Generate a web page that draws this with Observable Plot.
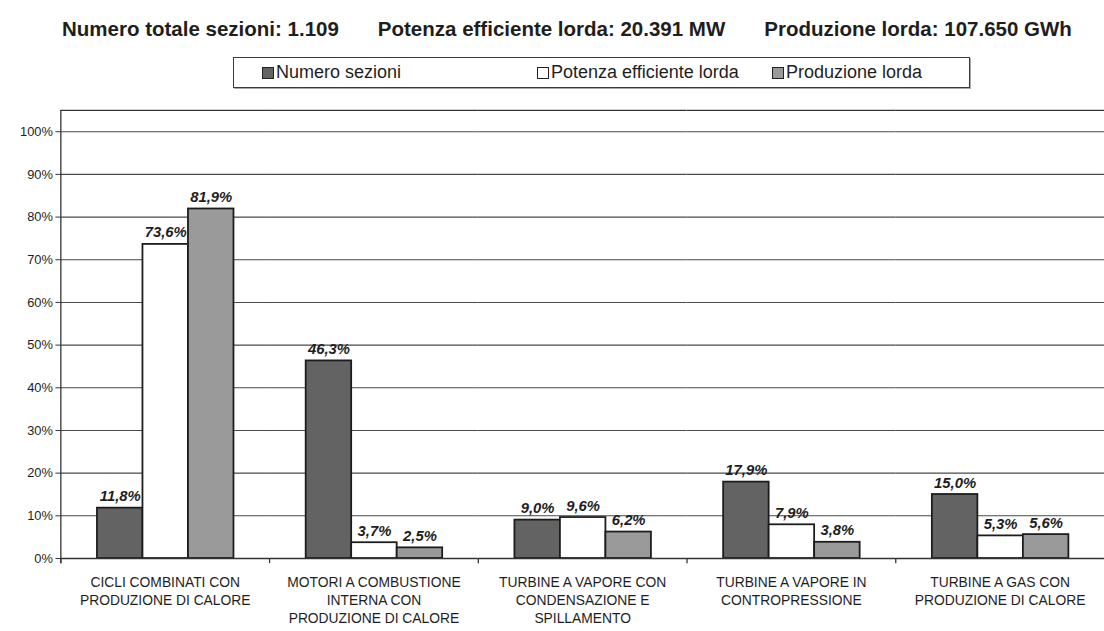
<!DOCTYPE html>
<html>
<head>
<meta charset="utf-8">
<script src="https://cdn.jsdelivr.net/npm/d3@7"></script>
<script src="https://cdn.jsdelivr.net/npm/@observablehq/plot@0.6"></script>
<style>
  html, body { margin: 0; padding: 0; background: #fff; overflow: hidden; width: 1104px; height: 631px; }
  body { position: relative; font-family: "Liberation Sans", Arial, sans-serif; color: #1e1e1e; }
  #title { position: absolute; left: 62px; top: 17px; font-weight: bold; font-size: 20.5px; white-space: nowrap; display: flex; gap: 39px; }
  #legend { position: absolute; left: 233px; top: 57px; width: 735px; height: 29px; border: 1.5px solid #3a3a3a; box-shadow: 1px 1px 0 #aaa;
            font-size: 18px; white-space: nowrap; }
  #legend .item { position: absolute; top: 0; height: 29px; display: flex; align-items: center; }
  #legend .sw { width: 10px; height: 10px; border: 1.5px solid #222; margin-right: 2px; }
  #chart { position: absolute; left: 0; top: 100px; }
</style>
</head>
<body>
<div id="title"></div>
<div id="legend"></div>
<div id="chart"></div>
<script>
const headline = ["Numero totale sezioni: 1.109", "Potenza efficiente lorda: 20.391 MW", "Produzione lorda: 107.650 GWh"];
const categories = ["CC", "MCI", "TVC", "TVP", "TG"];
const categoryLabels = [
  "CICLI COMBINATI CON\nPRODUZIONE DI CALORE",
  "MOTORI A COMBUSTIONE\nINTERNA CON\nPRODUZIONE DI CALORE",
  "TURBINE A VAPORE CON\nCONDENSAZIONE E\nSPILLAMENTO",
  "TURBINE A VAPORE IN\nCONTROPRESSIONE",
  "TURBINE A GAS CON\nPRODUZIONE DI CALORE"
];
const series = ["Numero sezioni", "Potenza efficiente lorda", "Produzione lorda"];
const numeroSezioni = [11.8, 46.3, 9.0, 17.9, 15.0];
const potenzaEfficiente = [73.6, 3.7, 9.6, 7.9, 5.3];
const produzioneLorda = [81.9, 2.5, 6.2, 3.8, 5.6];
const yTicks = [0, 10, 20, 30, 40, 50, 60, 70, 80, 90, 100];

const seriesValues = [numeroSezioni, potenzaEfficiente, produzioneLorda];
const seriesColors = ["#636363", "#ffffff", "#9a9a9a"];
const legendOffsets = [28, 303, 538];

const rows = [];
categories.forEach((c, i) => series.forEach((s, j) => rows.push({cat: c, series: s, value: seriesValues[j][i]})));

// header + legend (HTML, outside the SVG)
const t = document.getElementById("title");
headline.forEach(h => { const s = document.createElement("span"); s.textContent = h; t.appendChild(s); });
const lg = document.getElementById("legend");
series.forEach((s, j) => {
  const it = document.createElement("div"); it.className = "item"; it.style.left = legendOffsets[j] + "px";
  const sw = document.createElement("div"); sw.className = "sw"; sw.style.background = seriesColors[j];
  const tx = document.createElement("span"); tx.textContent = s;
  it.appendChild(sw); it.appendChild(tx); lg.appendChild(it);
});

const W = 1116, ML = 61, MR = 0;
const fxBand = (W - ML - MR) / categories.length;
const fmt = v => v.toFixed(1).replace(".", ",") + "%";
const labelOf = new Map(categories.map((c, i) => [c, categoryLabels[i]]));

const chart = Plot.plot({
  width: W, height: 531,
  marginLeft: ML, marginRight: MR, marginTop: 10, marginBottom: 68,
  style: {fontFamily: "'Liberation Sans', Arial, sans-serif", color: "#1e1e1e", background: "transparent"},
  fx: {domain: categories, padding: 0, axis: null},
  x: {domain: series, paddingInner: 0, paddingOuter: 0.745, axis: null},
  y: {domain: [0, 105], axis: null},
  color: {domain: series, range: seriesColors},
  marks: [
    Plot.ruleY(yTicks.filter(d => d > 0), {stroke: "#4a4a4a", strokeWidth: 1.1}),
    Plot.ruleY([105], {stroke: "#333", strokeWidth: 1.3}),
    Plot.barY(rows, {fx: "cat", x: "series", y: "value", fill: "series", stroke: "#1c1c1c", strokeWidth: 1.8}),
    Plot.ruleY([0], {stroke: "#333", strokeWidth: 1.3}),
    Plot.ruleX([categories[0]], {fx: d => d, x: null, y1: -1.2, y2: 105, dx: -fxBand / 2, stroke: "#333", strokeWidth: 1.3}),
    Plot.ruleX(categories, {fx: d => d, x: null, y1: -1.2, y2: 0, dx: -fxBand / 2, stroke: "#333", strokeWidth: 1.3}),
    Plot.axisY(yTicks, {tickFormat: d => d + "%", label: null, tickSize: 5, tickPadding: 3, fontSize: 13, stroke: "#333"}),
    Plot.text(rows, {fx: "cat", x: "series", y: "value", text: d => fmt(d.value), dy: -7, lineAnchor: "bottom",
      fontWeight: "bold", fontStyle: "italic", fontSize: 15, fill: "#1e1e1e"}),
    Plot.text(categories, {fx: d => d, text: d => labelOf.get(d), frameAnchor: "bottom", lineAnchor: "top",
      dy: 16, fontSize: 14, lineHeight: 1.3, fill: "#1e1e1e"})
  ]
});
document.getElementById("chart").appendChild(chart);
</script>
</body>
</html>
